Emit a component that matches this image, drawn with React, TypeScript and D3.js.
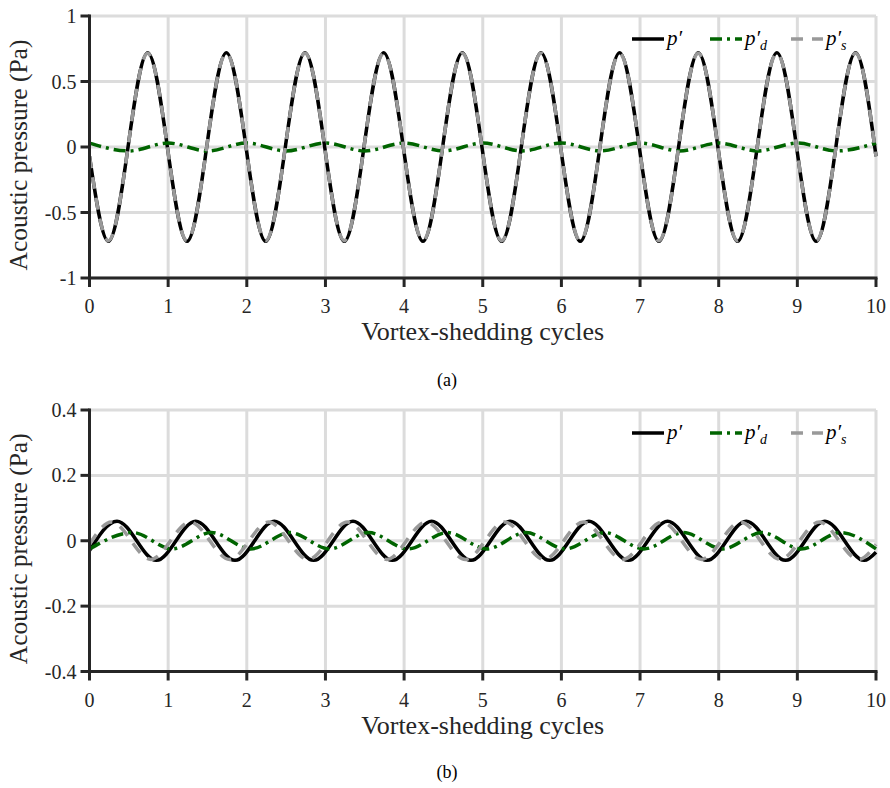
import React from "react";
import * as d3 from "d3";

// x ticks (vortex-shedding cycles)
const cycleTicks = [0, 1, 2, 3, 4, 5, 6, 7, 8, 9, 10];

const yTicksA = [-1, -0.5, 0, 0.5, 1];
const yLabelsA = ["-1", "-0.5", "0", "0.5", "1"];
const yTicksB = [-0.4, -0.2, 0, 0.2, 0.4];
const yLabelsB = ["-0.4", "-0.2", "0", "0.2", "0.4"];

// panel (a): extrema [cycle, Pa]
const pTotalA = [
  [0, -0.07], [0.24, -0.72], [0.74, 0.72], [1.24, -0.72], [1.74, 0.72], [2.24, -0.72], [2.74, 0.72],
  [3.24, -0.72], [3.74, 0.72], [4.24, -0.72], [4.74, 0.72], [5.24, -0.72], [5.74, 0.72], [6.24, -0.72],
  [6.74, 0.72], [7.24, -0.72], [7.74, 0.72], [8.24, -0.72], [8.74, 0.72], [9.24, -0.72], [9.74, 0.72], [10, -0.07],
];
const pDipoleA = [
  [0, 0.03], [0.5, -0.03], [1, 0.03], [1.5, -0.03], [2, 0.03], [2.5, -0.03], [3, 0.03], [3.5, -0.03],
  [4, 0.03], [4.5, -0.03], [5, 0.03], [5.5, -0.03], [6, 0.03], [6.5, -0.03], [7, 0.03], [7.5, -0.03],
  [8, 0.03], [8.5, -0.03], [9, 0.03], [9.5, -0.03], [10, 0.03],
];
const pSourceA = [
  [0, -0.07], [0.24, -0.715], [0.74, 0.715], [1.24, -0.715], [1.74, 0.715], [2.24, -0.715], [2.74, 0.715],
  [3.24, -0.715], [3.74, 0.715], [4.24, -0.715], [4.74, 0.715], [5.24, -0.715], [5.74, 0.715], [6.24, -0.715],
  [6.74, 0.715], [7.24, -0.715], [7.74, 0.715], [8.24, -0.715], [8.74, 0.715], [9.24, -0.715], [9.74, 0.715], [10, -0.07],
];

// panel (b)
const pTotalB = [
  [0, -0.03], [0.35, 0.06], [0.85, -0.06], [1.35, 0.06], [1.85, -0.06], [2.35, 0.06], [2.85, -0.06],
  [3.35, 0.06], [3.85, -0.06], [4.35, 0.06], [4.85, -0.06], [5.35, 0.06], [5.85, -0.06], [6.35, 0.06],
  [6.85, -0.06], [7.35, 0.06], [7.85, -0.06], [8.35, 0.06], [8.85, -0.06], [9.35, 0.06], [9.85, -0.06], [10, -0.035],
];
const pDipoleB = [
  [0, -0.025], [0.55, 0.025], [1.05, -0.025], [1.55, 0.025], [2.05, -0.025], [2.55, 0.025], [3.05, -0.025],
  [3.55, 0.025], [4.05, -0.025], [4.55, 0.025], [5.05, -0.025], [5.55, 0.025], [6.05, -0.025], [6.55, 0.025],
  [7.05, -0.025], [7.55, 0.025], [8.05, -0.025], [8.55, 0.025], [9.05, -0.025], [9.55, 0.025], [10, -0.025],
];
const pSourceB = [
  [0, -0.011], [0.28, 0.057], [0.78, -0.057], [1.28, 0.057], [1.78, -0.057], [2.28, 0.057], [2.78, -0.057],
  [3.28, 0.057], [3.78, -0.057], [4.28, 0.057], [4.78, -0.057], [5.28, 0.057], [5.78, -0.057], [6.28, 0.057],
  [6.78, -0.057], [7.28, 0.057], [7.78, -0.057], [8.28, 0.057], [8.78, -0.057], [9.28, 0.057], [9.78, -0.057], [10, -0.011],
];

const axisColor = "#262626";
const gridColor = "#dcdcdc";
const serif = { fontFamily: '"Liberation Serif"' };

const styles = [
  { key: "p", color: "#000000", dash: null, sub: null },
  { key: "d", color: "#006400", dash: "12,5,3,5", sub: "d" },
  { key: "s", color: "#999999", dash: "12,9", sub: "s" },
];

const x = d3.scaleLinear().domain([0, 10]).range([89.5, 876]);

function Panel({ id, top, bottom, domain, ticks, labels, series, caption, captionY }) {
  const y = d3.scaleLinear().domain(domain).range([bottom, top]);
  const line = d3.line().x((d) => x(d[0])).y((d) => y(d[1])).curve(d3.curveMonotoneX);
  const [x0, x1] = x.range();
  const legendY = top + 23;
  const legendX = [632, 710, 791];
  return (
    <g>
      <defs>
        <clipPath id={"clip" + id}>
          <rect x={x0} y={top - 2} width={x1 - x0 + 2} height={bottom - top + 4} />
        </clipPath>
      </defs>
      {cycleTicks.map((t) => (
        <line key={"gx" + t} x1={x(t)} x2={x(t)} y1={top} y2={bottom} stroke={gridColor} strokeWidth={3} />
      ))}
      {ticks.map((t) => (
        <line key={"gy" + t} x1={x0} x2={x1} y1={y(t)} y2={y(t)} stroke={gridColor} strokeWidth={3} />
      ))}
      <g clipPath={`url(#clip${id})`}>
        {series.map((s, i) => (
          <path key={i} d={line(s) || ""} fill="none" stroke={styles[i].color} strokeWidth={3.5}
            strokeDasharray={styles[i].dash || undefined} strokeLinejoin="round" />
        ))}
      </g>
      {/* axes */}
      <line x1={x0} x2={x1 + 1.5} y1={bottom} y2={bottom} stroke={axisColor} strokeWidth={3} />
      <line x1={x0} x2={x0} y1={top - 1.5} y2={bottom + 1.5} stroke={axisColor} strokeWidth={3} />
      {cycleTicks.map((t) => (
        <g key={"tx" + t}>
          <line x1={x(t)} x2={x(t)} y1={bottom} y2={bottom + 9} stroke={axisColor} strokeWidth={3} />
          <text x={x(t)} y={bottom + 35} textAnchor="middle" style={serif} fontSize={20} fill={axisColor}>{t}</text>
        </g>
      ))}
      {ticks.map((t, i) => (
        <g key={"ty" + t}>
          <line x1={x0 - 9} x2={x0} y1={y(t)} y2={y(t)} stroke={axisColor} strokeWidth={3} />
          <text x={x0 - 13} y={y(t) + 7} textAnchor="end" style={serif} fontSize={20} fill={axisColor}>{labels[i]}</text>
        </g>
      ))}
      <text x={(x0 + x1) / 2} y={bottom + 62} textAnchor="middle" style={serif} fontSize={26} fill={axisColor}>
        Vortex-shedding cycles
      </text>
      <text transform={`translate(27, ${(top + bottom) / 2 + 8}) rotate(-90)`} textAnchor="middle" style={serif} fontSize={25.5} fill={axisColor}>
        Acoustic pressure (Pa)
      </text>
      {/* legend */}
      {styles.map((st, i) => (
        <g key={"lg" + st.key}>
          <line x1={legendX[i]} x2={legendX[i] + 32} y1={legendY} y2={legendY} stroke={st.color} strokeWidth={3.5}
            strokeDasharray={st.dash || undefined} />
          <text x={legendX[i] + 35} y={legendY + 6} style={serif} fontStyle="italic" fontSize={21} fill="#000">
            p′{st.sub && <tspan dy={5} fontSize={14}>{st.sub}</tspan>}
          </text>
        </g>
      ))}
      <text x={447} y={captionY} textAnchor="middle" style={serif} fontSize={18} fill="#000">{caption}</text>
    </g>
  );
}

export default function App() {
  return (
    <svg width={890} height={788} style={{ position: "absolute", left: 0, top: 0, background: "#fff" }}>
      <rect width={890} height={788} fill="#fff" />
      <Panel id="a" top={16} bottom={278} domain={[-1, 1]} ticks={yTicksA} labels={yLabelsA}
        series={[pTotalA, pDipoleA, pSourceA]} caption="(a)" captionY={386} />
      <Panel id="b" top={410} bottom={671.5} domain={[-0.4, 0.4]} ticks={yTicksB} labels={yLabelsB}
        series={[pTotalB, pDipoleB, pSourceB]} caption="(b)" captionY={778} />
    </svg>
  );
}
